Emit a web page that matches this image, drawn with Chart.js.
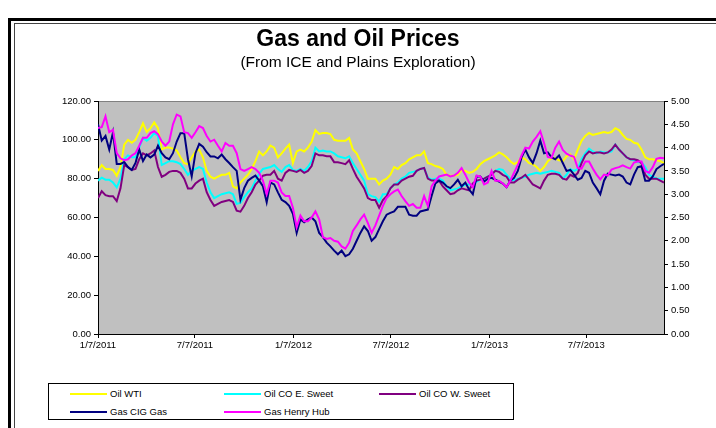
<!DOCTYPE html>
<html>
<head>
<meta charset="utf-8">
<script src="https://cdn.jsdelivr.net/npm/chart.js@4"></script>
<style>
  html, body { margin: 0; padding: 0; background: #fff; }
  body { width: 716px; height: 428px; position: relative; overflow: hidden; font-family: Arial, "Liberation Sans", sans-serif; }
  #frameOuter { position: absolute; left: 8px; top: 18px; width: 760px; height: 460px; border-left: 3px solid #000; border-top: 3px solid #000; }
  #frameInner { position: absolute; left: 14px; top: 23px; width: 760px; height: 460px; border-left: 1px solid #444; border-top: 1px solid #444; }
  #chart { position: absolute; left: 0; top: 0; }
  #legend { position: absolute; left: 48px; top: 383px; width: 464px; height: 35px; border: 1px solid #000; background: #fff; }
  .legItem { position: absolute; height: 12px; }
  .legLine { position: absolute; left: 0; top: 5px; width: 37px; height: 2px; }
  .legText { position: absolute; left: 40px; top: 0; font-size: 9.5px; line-height: 12px; color: #000; white-space: nowrap; }
</style>
</head>
<body>
<div id="frameOuter"></div>
<div id="frameInner"></div>
<canvas id="chart" width="716" height="428"></canvas>
<div id="legend"></div>
<script>
const seriesNames = ['Oil WTI', 'Oil CO E. Sweet', 'Oil CO W. Sweet', 'Gas CIG Gas', 'Gas Henry Hub'];
const seriesColors = ['#ffff00', '#00ffff', '#800080', '#000080', '#ff00ff'];

// x axis: days since 1/7/2011, labels every six months
const tickDays = [0, 181, 365, 547, 731, 912];
const tickLabels = ['1/7/2011', '7/7/2011', '1/7/2012', '7/7/2012', '1/7/2013', '7/7/2013'];

// weekly prices, oil in $/bbl (left axis)
const oilWti = [
  84, 87, 85, 85, 84.5, 81.5, 86, 97.5, 100, 98.5,
  100, 104, 108.5, 104, 106, 109, 106, 95, 96, 96,
  95.5, 94.5, 91, 88, 87.5, 91, 94, 95, 91, 84,
  81, 80, 81, 82, 82, 83, 76, 75, 78, 80,
  82, 85, 89, 94, 92, 94, 97, 96, 91, 93,
  95.5, 97.5, 88, 94, 95, 94, 96, 99, 105, 103,
  103.5, 103.5, 103, 100, 99.5, 99.5, 99.5, 101, 95, 93,
  89, 85, 80, 80, 80, 77, 79, 80, 82, 86,
  85, 87, 88, 90, 91, 92, 92, 94, 88, 87.5,
  86.5, 86, 85, 82, 81.5, 81.5, 82, 84.5, 84, 83,
  83.5, 85, 87.5, 89, 90, 91, 92, 93.5, 92.5, 91,
  89, 87.5, 88.5, 91, 90, 88, 87.5, 86, 84, 86,
  89, 90.5, 90.5, 89.5, 89, 91.5, 92.5, 90, 95, 99.5,
  102, 103.5, 102.5, 103, 103.5, 104, 103.5, 104, 106, 105,
  102.5, 100.5, 100, 98.5, 98, 95, 91, 90, 90, 89.5, 89, 88
];
const oilEastSweet = [
  79, 80.5, 79.5, 79.5, 78, 75.5, 80, 90, 92, 91,
  91, 96, 101, 99.5, 101, 103.5, 102, 87, 88, 89,
  89, 88.5, 87.5, 85, 82, 84, 85, 86, 85, 78,
  73, 70, 71, 72, 72.5, 73, 72, 67, 67.5, 70.5,
  73, 75, 79, 82.5, 85, 85.5, 86, 87, 85, 83.5,
  86, 87, 84.5, 84, 85, 84, 86, 89, 96, 94,
  94.5, 94, 94, 93, 91.5, 91, 90.5, 91.5, 88, 85,
  82, 79, 72, 71, 70.5, 68, 72, 72, 75, 77,
  78, 80, 81, 83, 83.5, 84, 85, 85.5, 80.5, 79.5,
  80, 80, 79, 76, 74, 74.5, 75, 76, 77, 77,
  76.5, 78.5, 79.5, 80, 81, 82, 84, 85, 84.5, 82,
  80, 79, 80, 80.5, 81, 82, 82.5, 83, 82.5, 83,
  83.5, 84, 83.5, 83, 80, 82, 85, 84, 85, 90,
  93, 95.5, 94, 93, 94, 93.5, 93.5, 94, 97.5, 95,
  93, 91, 90, 89.5, 88.5, 88.5, 86, 82, 81, 80, 80, 80
];
const oilWestSweet = [
  70, 73.5, 71.5, 71, 71, 68.5, 75, 87, 86, 84.5,
  85, 90, 93, 92, 93, 94.5, 86, 81, 82, 83.5,
  84, 84, 83, 80, 75, 75, 77.5, 79, 80, 73,
  69, 66, 67, 68, 68.5, 69, 68, 63.5, 63, 66,
  70, 73, 77, 79, 81.5, 82, 82, 84, 80, 79,
  83, 84.5, 84, 83.5, 84.5, 83, 84, 86.5, 93, 92,
  92, 91.5, 91.5, 88.5, 88.5, 88, 87.5, 89.5, 85, 81,
  78, 75, 70, 69, 69, 65, 69, 71, 75, 77,
  77, 79, 80, 81, 81.5, 84, 85, 85.5, 80, 79,
  79, 79, 76, 74, 72, 72.5, 74, 75, 74.5, 74,
  77.5, 79, 79.5, 80, 81, 82, 84, 83.5, 82, 81,
  78, 78, 79.5, 80.5, 82, 79.5, 77, 76, 75, 79,
  82, 82.5, 82.5, 82, 80, 79.5, 82, 81, 83, 88,
  92, 94, 93, 93.5, 93.5, 93, 93.5, 95, 97.5, 95,
  93, 91, 90, 90, 89.5, 88, 82, 80, 80, 80, 79, 78
];

// gas in $/MMBtu (right axis)
const gasCig = [
  4.50, 4.15, 4.25, 3.96, 4.33, 3.65, 3.65, 3.69, 3.58, 3.52,
  3.67, 3.96, 3.71, 3.85, 3.79, 3.85, 4.04, 3.88, 3.79, 3.75,
  3.88, 4.13, 4.31, 4.31, 3.75, 3.38, 3.88, 4.08, 4.02, 3.90,
  3.81, 3.81, 3.77, 3.85, 3.75, 3.67, 3.58, 3.50, 2.88, 3.13,
  3.29, 3.35, 3.40, 3.29, 3.17, 2.83, 3.25, 3.21, 3.04, 2.88,
  2.83, 2.75, 2.58, 2.17, 2.46, 2.40, 2.46, 2.50, 2.42, 2.17,
  2.08, 1.96, 1.88, 1.79, 1.71, 1.79, 1.67, 1.71, 1.83, 2.00,
  2.17, 2.31, 2.21, 2.00, 2.08, 2.25, 2.42, 2.56, 2.60, 2.63,
  2.73, 2.73, 2.73, 2.56, 2.54, 2.54, 2.63, 2.65, 2.67, 2.96,
  3.23, 3.29, 3.25, 3.17, 3.13, 3.21, 3.31, 3.17, 3.25, 3.10,
  3.00, 3.38, 3.38, 3.27, 3.33, 3.35, 3.31, 3.27, 3.23, 3.15,
  3.29, 3.35, 3.50, 3.79, 3.96, 3.79, 3.67, 3.88, 4.15, 3.88,
  3.90, 3.79, 3.75, 3.83, 3.67, 3.50, 3.52, 3.42, 3.31, 3.35,
  3.50, 3.46, 3.25, 3.13, 3.00, 3.29, 3.44, 3.42, 3.40, 3.42,
  3.38, 3.25, 3.21, 3.42, 3.58, 3.60, 3.29, 3.29, 3.38, 3.54, 3.60, 3.65
];
const gasHenryHub = [
  4.42, 4.44, 4.67, 4.33, 4.38, 3.88, 3.77, 3.73, 3.75, 3.83,
  3.88, 4.04, 4.21, 4.21, 4.31, 4.35, 4.29, 4.13, 4.04, 4.13,
  4.50, 4.71, 4.67, 4.33, 4.31, 4.21, 4.33, 4.46, 4.42, 4.25,
  4.13, 4.17, 4.04, 3.92, 4.10, 4.04, 4.04, 3.88, 3.54, 3.50,
  3.54, 3.58, 3.54, 3.46, 3.29, 3.00, 3.29, 3.29, 3.25, 3.04,
  2.96, 2.96, 2.71, 2.29, 2.54, 2.42, 2.42, 2.50, 2.63, 2.46,
  2.08, 2.04, 2.06, 2.00, 1.98, 1.88, 1.83, 1.96, 2.21, 2.33,
  2.46, 2.56, 2.38, 2.17, 2.33, 2.54, 2.75, 2.92, 3.00, 3.06,
  3.10, 2.96, 2.85, 2.75, 2.79, 2.71, 2.71, 2.96, 2.75, 3.17,
  3.29, 3.38, 3.40, 3.42, 3.38, 3.40, 3.46, 3.56, 3.42, 3.25,
  3.15, 3.40, 3.38, 3.21, 3.25, 3.50, 3.29, 3.29, 3.23, 3.15,
  3.29, 3.46, 3.63, 3.83, 4.00, 3.98, 4.13, 4.23, 4.35, 4.10,
  3.80, 3.78, 4.00, 4.13, 3.95, 3.87, 3.83, 3.80, 3.56, 3.55,
  3.70, 3.70, 3.55, 3.42, 3.32, 3.42, 3.40, 3.53, 3.56, 3.58,
  3.62, 3.58, 3.55, 3.68, 3.70, 3.70, 3.50, 3.46, 3.58, 3.76, 3.78, 3.77
];

const weekDays = oilWti.map((v, i) => i * 7);
const allSeries = [oilWti, oilEastSweet, oilWestSweet, gasCig, gasHenryHub];
const seriesAxis = ['y', 'y', 'y', 'y1', 'y1'];

const axisFont = { family: 'Arial, "Liberation Sans", sans-serif', size: 9.5 };

const plotBackground = {
    id: 'plotBackground',
    beforeDraw(chart) {
        const ctx = chart.ctx;
        const a = chart.chartArea;
        ctx.save();
        ctx.fillStyle = '#c0c0c0';
        ctx.fillRect(a.left, a.top, a.right - a.left, a.bottom - a.top);
        ctx.strokeStyle = '#808080';
        ctx.lineWidth = 1;
        ctx.beginPath();
        ctx.moveTo(a.left, a.top + 0.5);
        ctx.lineTo(a.right, a.top + 0.5);
        ctx.stroke();
        ctx.restore();
    }
};

const datasets = allSeries.map((values, s) => ({
    label: seriesNames[s],
    data: values.map((v, i) => ({ x: weekDays[i], y: v })),
    borderColor: seriesColors[s],
    backgroundColor: seriesColors[s],
    borderWidth: 2,
    pointRadius: 0,
    tension: 0,
    yAxisID: seriesAxis[s],
    order: allSeries.length - s   // later series drawn on top, as in the original
}));

const myChart = new Chart(document.getElementById('chart'), {
    type: 'line',
    data: { datasets: datasets },
    plugins: [plotBackground],
    options: {
        responsive: false,
        animation: false,
        layout: { padding: { left: 0, right: 0, top: 0, bottom: 74 } },
        plugins: {
            legend: { display: false },
            tooltip: { enabled: false },
            title: {
                display: true,
                text: 'Gas and Oil Prices',
                color: '#000',
                font: { family: 'Arial, "Liberation Sans", sans-serif', size: 23, weight: 'bold', lineHeight: 1.2 },
                padding: { top: 25.7, bottom: 0 }
            },
            subtitle: {
                display: true,
                text: '(From ICE and Plains Exploration)',
                color: '#000',
                font: { family: 'Arial, "Liberation Sans", sans-serif', size: 15.5, weight: 'normal', lineHeight: 1.2 },
                padding: { top: 0, bottom: 29.1 }
            }
        },
        scales: {
            x: {
                type: 'linear',
                min: 0,
                max: 1057,
                afterBuildTicks: (scale) => { scale.ticks = tickDays.map(v => ({ value: v })); },
                afterFit: (scale) => { scale.height = 20; },
                ticks: {
                    autoSkip: false,
                    maxRotation: 0,
                    padding: 2,
                    color: '#000',
                    font: axisFont,
                    callback: (value) => tickLabels[tickDays.indexOf(value)]
                },
                grid: { drawOnChartArea: false, tickLength: 4, color: '#000' },
                border: { color: '#000', width: 1 }
            },
            y: {
                position: 'left',
                min: 0,
                max: 120,
                afterFit: (scale) => { scale.width = 98; },
                ticks: { stepSize: 20, padding: 3, color: '#000', font: axisFont, callback: v => v.toFixed(2) },
                grid: { drawOnChartArea: false, tickLength: 4, color: '#000' },
                border: { color: '#000', width: 1 }
            },
            y1: {
                position: 'right',
                min: 0,
                max: 5,
                afterFit: (scale) => { scale.width = 52; },
                ticks: { stepSize: 0.5, padding: 3, color: '#000', font: axisFont, callback: v => v.toFixed(2) },
                grid: { drawOnChartArea: false, tickLength: 4, color: '#000' },
                border: { color: '#000', width: 1 }
            }
        }
    }
});

// legend box under the chart, built from the datasets
const legendNode = document.getElementById('legend');
const colLeft = [21, 175, 330];
const rowTop = [4, 22];
myChart.data.datasets.forEach((ds, i) => {
    const item = document.createElement('div');
    item.className = 'legItem';
    item.style.left = colLeft[i % 3] + 'px';
    item.style.top = rowTop[Math.floor(i / 3)] + 'px';
    const line = document.createElement('div');
    line.className = 'legLine';
    line.style.background = ds.borderColor;
    const text = document.createElement('span');
    text.className = 'legText';
    text.textContent = ds.label;
    item.append(line, text);
    legendNode.append(item);
});
</script>
</body>
</html>
